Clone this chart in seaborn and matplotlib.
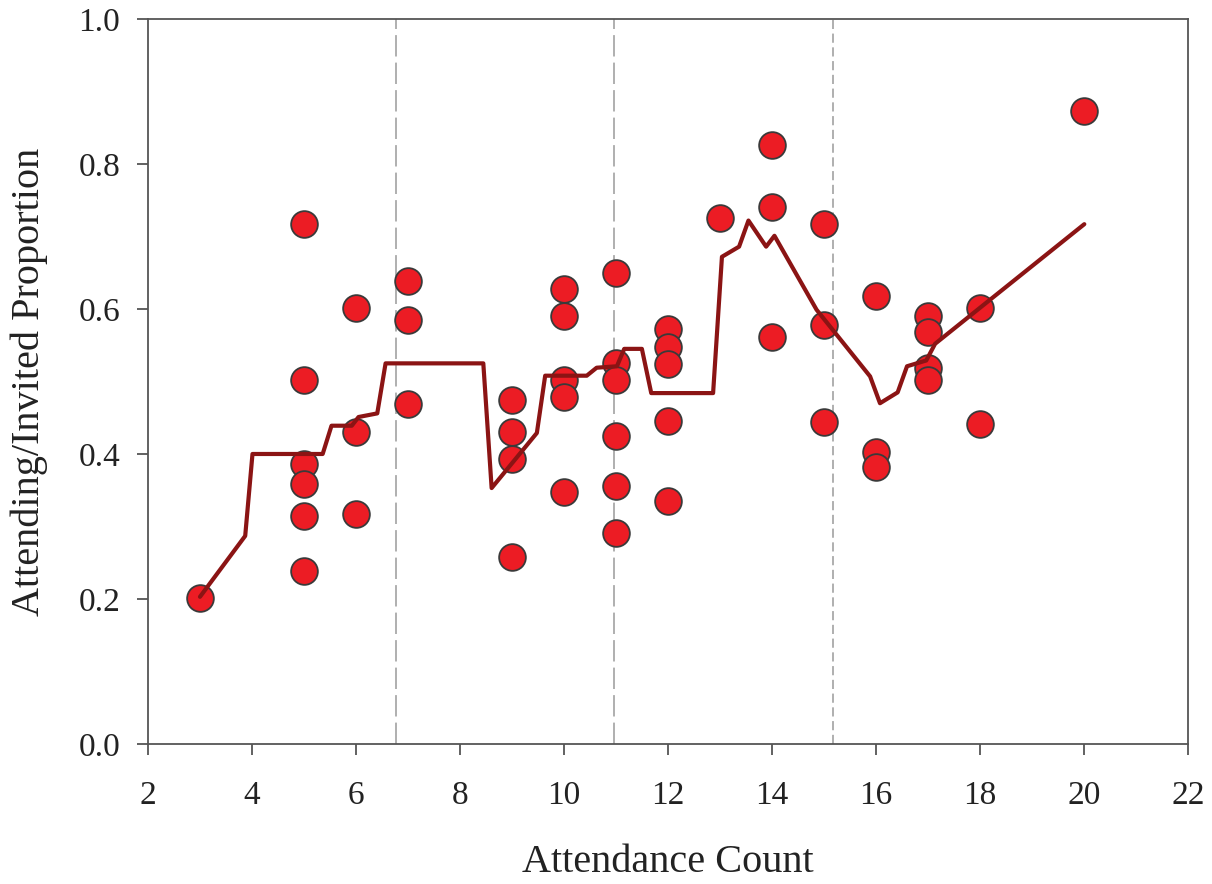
import matplotlib
matplotlib.use("Agg")
import matplotlib.pyplot as plt
import seaborn as sns
import pandas as pd

# ---- data ----
point_x = [3,
           5, 5, 5, 5, 5, 5,
           6, 6, 6,
           7, 7, 7,
           9, 9, 9, 9,
           10, 10, 10, 10, 10,
           11, 11, 11, 11, 11, 11,
           12, 12, 12, 12, 12,
           13,
           14, 14, 14,
           15, 15, 15,
           16, 16, 16,
           17, 17, 17, 17,
           18, 18,
           20]
point_y = [0.202,
           0.717, 0.502, 0.386, 0.358, 0.314, 0.239,
           0.602, 0.430, 0.317,
           0.639, 0.585, 0.469,
           0.475, 0.430, 0.393, 0.258,
           0.627, 0.590, 0.502, 0.478, 0.347,
           0.649, 0.526, 0.502, 0.425, 0.356, 0.291,
           0.573, 0.548, 0.524, 0.446, 0.335,
           0.725,
           0.826, 0.740, 0.562,
           0.717, 0.578, 0.444,
           0.618, 0.403, 0.382,
           0.590, 0.568, 0.519, 0.502,
           0.602, 0.441,
           0.873]

trend_x = [3.0, 3.87, 4.01, 5.36, 5.53, 5.92, 6.05, 6.41, 6.57, 8.45, 8.61,
           9.48, 9.64, 10.44, 10.63, 11.02, 11.16, 11.50, 11.68, 12.87,
           13.04, 13.37, 13.55, 13.89, 14.05, 14.86, 15.89, 16.08, 16.42,
           16.60, 16.97, 17.14, 20.01]
trend_y = [0.203, 0.287, 0.400, 0.400, 0.439, 0.439, 0.451, 0.456, 0.525, 0.525, 0.353,
           0.429, 0.508, 0.508, 0.519, 0.521, 0.545, 0.545, 0.484, 0.484,
           0.672, 0.686, 0.722, 0.686, 0.701, 0.599, 0.507, 0.470, 0.485,
           0.521, 0.529, 0.552, 0.717]

cut_x = [6.77, 10.97, 15.18]

x_ticks = [2, 4, 6, 8, 10, 12, 14, 16, 18, 20, 22]
y_ticks = [0.0, 0.2, 0.4, 0.6, 0.8, 1.0]

points = pd.DataFrame({"x": point_x, "y": point_y})
trend = pd.DataFrame({"x": trend_x, "y": trend_y})

sns.set_theme(style="white")
plt.rcParams["font.family"] = ["Liberation Serif", "DejaVu Serif"]

fig = plt.figure(figsize=(12.12, 8.84), dpi=100)
ax = fig.add_axes([0.1221, 0.1584, 0.98 - 0.1221, 0.9785 - 0.1584])

dash_styles = [(0, (14, 4)), (0, (14, 4)), (0, (6, 3))]
for cx, ds in zip(cut_x, dash_styles):
    ax.axvline(cx, color="#9a9a9a", lw=1.1, linestyle=ds, zorder=1)

sns.scatterplot(data=points, x="x", y="y", ax=ax, s=370, color="#ec1c24",
                edgecolor="#3a3a3a", linewidth=1.3, zorder=3, legend=False)
sns.lineplot(data=trend, x="x", y="y", ax=ax, sort=False, estimator=None,
             color="#8b1414", lw=3.0, zorder=4, legend=False)

ax.set_xlim(2, 22)
ax.set_ylim(0, 1.0)
ax.set_xticks(x_ticks)
ax.set_yticks(y_ticks)
ax.set_xticklabels([str(t) for t in x_ticks])
ax.set_yticklabels([f"{t:.1f}" for t in y_ticks])

for sp in ax.spines.values():
    sp.set_color("#555555")
    sp.set_linewidth(1.3)
    sp.set_visible(True)

ax.tick_params(axis="both", which="major", direction="out", length=8,
               width=1.3, color="#555555", labelsize=24, labelcolor="#222222",
               bottom=True, left=True, top=False, right=False)
ax.tick_params(axis="x", pad=18)
ax.tick_params(axis="y", pad=12)

ax.set_xlabel("Attendance Count", fontsize=29, color="#222222", labelpad=24)
ax.set_ylabel("Attending/Invited Proportion", fontsize=29, color="#222222", labelpad=22)

fig.savefig("out.png", dpi=100)
